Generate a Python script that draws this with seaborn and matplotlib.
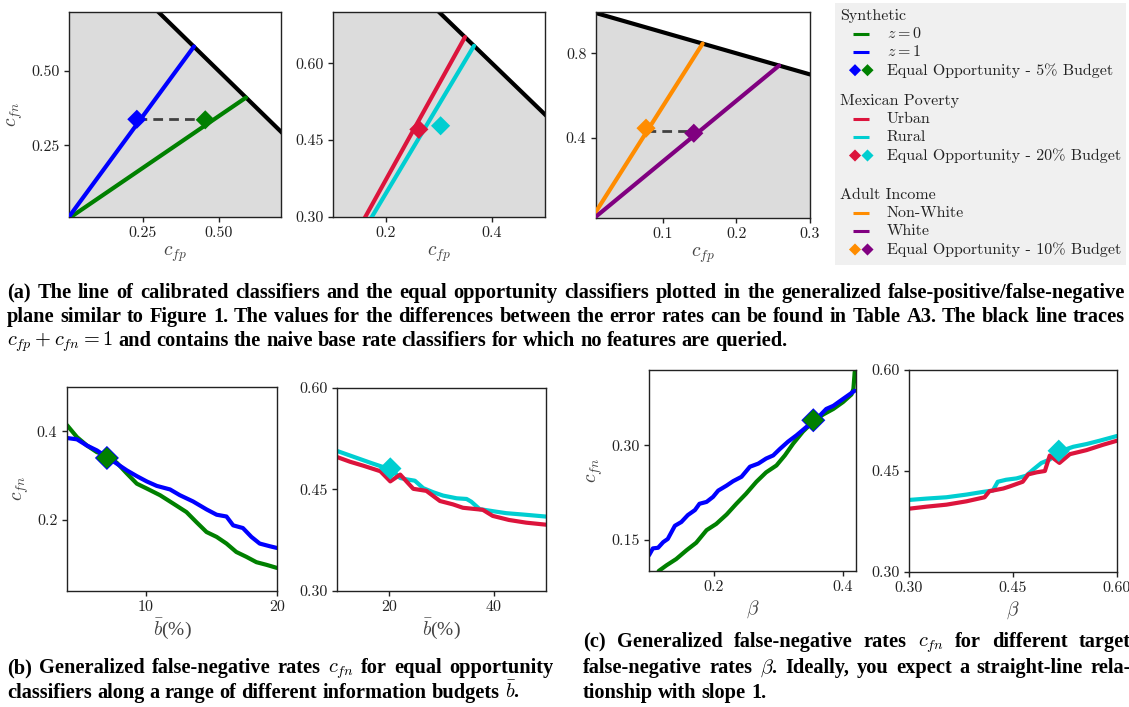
import numpy as np
import matplotlib
matplotlib.use("Agg")
import matplotlib.pyplot as plt
import seaborn as sns
from matplotlib.ticker import FixedLocator, FormatStrFormatter
from matplotlib.font_manager import FontProperties

# ---------------- data ----------------
# (a) calibrated-classifier lines: end points on c_fp + c_fn = 1 (lines start at the origin)
syn_labels = ["$z = 0$", "$z = 1$"]
syn_end_fp = [0.589, 0.418]
syn_end_fn = [0.411, 0.583]
syn_eo_fp = [0.455, 0.230]
syn_eo_fn = [0.336, 0.338]

mex_labels = ["Urban", "Rural"]
mex_end_fp = [0.349, 0.366]
mex_end_fn = [0.651, 0.634]
mex_eo_fp = [0.262, 0.303]
mex_eo_fn = [0.471, 0.478]

adult_labels = ["Non-White", "White"]
adult_end_fp = [0.154, 0.258]
adult_end_fn = [0.846, 0.742]
adult_eo_fp = [0.077, 0.142]
adult_eo_fn = [0.445, 0.421]

# (b) synthetic: c_fn vs budget
b_syn_z1_x = [4.0, 4.76, 5.52, 6.28, 7.04, 7.8, 8.56, 9.32, 10.08, 10.84, 11.85, 12.6, 13.6, 14.63,
              15.4, 16.15, 16.66, 17.4, 18.05, 18.68, 19.44, 20.0]
b_syn_z1_y = [0.385, 0.382, 0.368, 0.357, 0.342, 0.327, 0.312, 0.299, 0.287, 0.277, 0.269, 0.256,
              0.242, 0.224, 0.212, 0.208, 0.188, 0.182, 0.162, 0.147, 0.141, 0.137]
b_syn_z0_x = [4.0, 4.76, 5.52, 6.28, 7.04, 7.8, 8.56, 9.32, 10.08, 11.09, 12.1, 13.1, 13.87, 14.63,
              15.4, 16.15, 16.9, 17.67, 18.43, 19.2, 20.0]
b_syn_z0_y = [0.414, 0.387, 0.368, 0.353, 0.346, 0.329, 0.305, 0.282, 0.271, 0.256, 0.237, 0.218,
              0.195, 0.173, 0.162, 0.147, 0.128, 0.117, 0.105, 0.099, 0.092]
b_syn_eo = (7.04, 0.340)

# (b) Mexican poverty
b_mex_rural_x = [10, 12.2, 14.4, 16.6, 18.9, 20.2, 22.1, 23.3, 24.9, 26.5, 28.4, 30.3, 32.9, 34.8,
                 35.7, 37.3, 39.8, 42.4, 45.6, 50]
b_mex_rural_y = [0.507, 0.501, 0.495, 0.489, 0.483, 0.481, 0.467, 0.465, 0.463, 0.452, 0.446, 0.441,
                 0.437, 0.436, 0.432, 0.421, 0.418, 0.415, 0.413, 0.410]
b_mex_urban_x = [10, 12.5, 15.1, 18.3, 20.2, 22.1, 24.6, 27.1, 29.7, 32.2, 34.1, 37.9, 39.8, 42.9,
                 46.2, 50]
b_mex_urban_y = [0.498, 0.491, 0.485, 0.477, 0.462, 0.472, 0.451, 0.448, 0.433, 0.428, 0.423, 0.420,
                 0.411, 0.405, 0.401, 0.398]
b_mex_eo = (20.2, 0.481)

# (c) synthetic: c_fn vs beta
c_syn_z1_x = [0.1, 0.106, 0.114, 0.122, 0.129, 0.14, 0.15, 0.16, 0.171, 0.178, 0.189, 0.199, 0.207,
              0.22, 0.23, 0.243, 0.256, 0.269, 0.281, 0.292, 0.302, 0.315, 0.328, 0.343, 0.359,
              0.374, 0.385, 0.4, 0.418]
c_syn_z1_y = [0.125, 0.136, 0.137, 0.146, 0.151, 0.172, 0.178, 0.189, 0.197, 0.207, 0.21, 0.218,
              0.228, 0.236, 0.243, 0.25, 0.266, 0.271, 0.279, 0.284, 0.294, 0.306, 0.316, 0.329,
              0.342, 0.358, 0.363, 0.374, 0.387]
c_syn_z0_x = [0.115, 0.127, 0.142, 0.158, 0.173, 0.189, 0.204, 0.22, 0.235, 0.25, 0.266, 0.281,
              0.297, 0.31, 0.323, 0.338, 0.354, 0.369, 0.385, 0.4, 0.413, 0.416, 0.418]
c_syn_z0_y = [0.1, 0.109, 0.119, 0.133, 0.145, 0.165, 0.175, 0.19, 0.207, 0.223, 0.242, 0.257,
              0.268, 0.284, 0.303, 0.322, 0.338, 0.349, 0.358, 0.369, 0.381, 0.39, 0.417]
c_syn_eo = (0.354, 0.340)

# (c) Mexican poverty
c_mex_rural_x = [0.3, 0.325, 0.354, 0.383, 0.407, 0.421, 0.428, 0.44, 0.455, 0.469, 0.479, 0.491,
                 0.503, 0.517, 0.537, 0.556, 0.575, 0.6]
c_mex_rural_y = [0.407, 0.409, 0.411, 0.415, 0.419, 0.421, 0.434, 0.437, 0.439, 0.443, 0.452, 0.462,
                 0.467, 0.479, 0.486, 0.49, 0.495, 0.502]
c_mex_urban_x = [0.3, 0.325, 0.354, 0.383, 0.409, 0.416, 0.436, 0.445, 0.464, 0.472, 0.484, 0.496,
                 0.503, 0.517, 0.532, 0.556, 0.58, 0.6]
c_mex_urban_y = [0.394, 0.397, 0.4, 0.405, 0.411, 0.42, 0.424, 0.427, 0.434, 0.445, 0.448, 0.45,
                 0.473, 0.462, 0.475, 0.481, 0.489, 0.495]
c_mex_eo = (0.516, 0.480)

GREEN, BLUE = "#008000", "#0000ff"
RED, CYAN = "#dc143c", "#00ced1"
ORANGE, PURPLE = "#ff8c00", "#800080"

# ---------------- style ----------------
sns.set_theme(style="ticks")
plt.rcParams["font.family"] = ["cmr10", "DejaVu Serif"]
plt.rcParams["mathtext.fontset"] = "cm"
plt.rcParams["axes.formatter.use_mathtext"] = True
plt.rcParams["axes.unicode_minus"] = False
plt.rcParams["xtick.major.size"] = 3.5
plt.rcParams["ytick.major.size"] = 3.5
plt.rcParams["xtick.major.width"] = 1.0
plt.rcParams["ytick.major.width"] = 1.0
plt.rcParams["axes.linewidth"] = 1.0
plt.rcParams["axes.edgecolor"] = "#222222"

W, H = 1129, 707
fig = plt.figure(figsize=(W / 100, H / 100), dpi=100)
TICK_FS = 11.5
LAB_FS = 14
LAB_C = "#444444"


def add_ax(l, t, r, b):
    return fig.add_axes([l / W, 1 - b / H, (r - l) / W, (b - t) / H])


def fmt_axis(ax, xlim, ylim, xt, yt, xf, yf):
    ax.set_xlim(*xlim)
    ax.set_ylim(*ylim)
    ax.xaxis.set_major_locator(FixedLocator(xt))
    ax.yaxis.set_major_locator(FixedLocator(yt))
    ax.xaxis.set_major_formatter(FormatStrFormatter(xf))
    ax.yaxis.set_major_formatter(FormatStrFormatter(yf))
    ax.tick_params(labelsize=TICK_FS, colors="#222222")
    ax.set_xlabel("")
    ax.set_ylabel("")
    for s in ax.spines.values():
        s.set_visible(True)
        s.set_color("#222222")


def top_panel(ax, end_fp, end_fn, eo_fp, eo_fn, colors, dash_y=None):
    xs = np.array([0.0, 1.0])
    ax.fill_between(xs, -1.0, 1.0 - xs, color="#dcdcdc", lw=0, zorder=0)
    sns.lineplot(x=xs, y=1.0 - xs, ax=ax, color="black", lw=3, zorder=2, errorbar=None)
    for fp, fn, c in zip(end_fp, end_fn, colors):
        sns.lineplot(x=[0.0, fp], y=[0.0, fn], ax=ax, color=c, lw=3, zorder=3, errorbar=None)
    if dash_y is not None:
        ax.plot([min(eo_fp), max(eo_fp)], [dash_y, dash_y], ls=(0, (3.5, 2.2)), color="#404040",
                lw=2, zorder=4)
    for fp, fn, c in zip(eo_fp, eo_fn, colors):
        sns.scatterplot(x=[fp], y=[fn], ax=ax, marker="D", s=95, color=c, edgecolor="none",
                        zorder=5, legend=False)


# ---- (a) top row ----
a1 = add_ax(69, 12, 281, 217)
top_panel(a1, syn_end_fp, syn_end_fn, syn_eo_fp, syn_eo_fn, [GREEN, BLUE], dash_y=0.338)
fmt_axis(a1, (0.007, 0.704), (0.009, 0.699), [0.25, 0.50], [0.25, 0.50], "%.2f", "%.2f")
a1.set_xlabel("$c_{fp}$", fontsize=LAB_FS, color=LAB_C, labelpad=3)
a1.set_ylabel("$c_{fn}$", fontsize=LAB_FS, color=LAB_C)

a2 = add_ax(333, 12, 545, 217)
top_panel(a2, mex_end_fp, mex_end_fn, mex_eo_fp, mex_eo_fn, [RED, CYAN])
fmt_axis(a2, (0.1, 0.5), (0.3, 0.7), [0.2, 0.4], [0.30, 0.45, 0.60], "%.1f", "%.2f")
a2.set_xlabel("$c_{fp}$", fontsize=LAB_FS, color=LAB_C, labelpad=3)

a3 = add_ax(596, 12, 810, 218)
top_panel(a3, adult_end_fp, adult_end_fn, adult_eo_fp, adult_eo_fn, [ORANGE, PURPLE], dash_y=0.431)
fmt_axis(a3, (0.009, 0.3), (0.019, 0.996), [0.1, 0.2, 0.3], [0.4, 0.8], "%.1f", "%.1f")
a3.set_xlabel("$c_{fp}$", fontsize=LAB_FS, color=LAB_C, labelpad=3)

# ---- legend box ----
lg = add_ax(835, 3, 1126, 265)
lg.set_xlim(835, 1126)
lg.set_ylim(265, 3)
lg.set_facecolor("#f0f0f0")
lg.set_xticks([])
lg.set_yticks([])
for s in lg.spines.values():
    s.set_visible(False)
LEG_FS = 11.5
sections = [
    ("Synthetic", 15.7, syn_labels, [GREEN, BLUE], "Equal Opportunity - 5% Budget", [BLUE, GREEN]),
    ("Mexican Poverty", 101, mex_labels, [RED, CYAN], "Equal Opportunity - 20% Budget", [RED, CYAN]),
    ("Adult Income", 195, adult_labels, [ORANGE, PURPLE], "Equal Opportunity - 10% Budget",
     [ORANGE, PURPLE]),
]
for title, y0, labs, cols, eo_lab, eo_cols in sections:
    lg.text(840, y0, title, fontsize=LEG_FS, va="center", ha="left", color="#222222")
    for i, (lab, c) in enumerate(zip(labs, cols)):
        yy = y0 + 18 * (i + 1)
        lg.plot([853, 869], [yy, yy], color=c, lw=2.2, solid_capstyle="butt")
        lg.text(887, yy, lab, fontsize=LEG_FS, va="center", ha="left", color="#222222")
    yy = y0 + 18 * 3 + 0.5
    lg.scatter([855, 867.5], [yy, yy], marker="D", s=38, c=eo_cols, edgecolors="none")
    lg.text(887, yy, eo_lab, fontsize=LEG_FS, va="center", ha="left", color="#222222")

BLAB = r"$\bar{b}$(%)"
BLAB_FAM = ["Liberation Serif", "DejaVu Serif"]

# ---- (b) ----
b1 = add_ax(67, 387, 277, 591)
sns.lineplot(x=b_syn_z0_x, y=b_syn_z0_y, ax=b1, color=GREEN, lw=3, errorbar=None)
sns.lineplot(x=b_syn_z1_x, y=b_syn_z1_y, ax=b1, color=BLUE, lw=3, errorbar=None)
sns.scatterplot(x=[b_syn_eo[0]], y=[b_syn_eo[1]], ax=b1, marker="D", s=150, color=BLUE,
                edgecolor="none", zorder=5, legend=False)
sns.scatterplot(x=[b_syn_eo[0]], y=[b_syn_eo[1]], ax=b1, marker="D", s=120, color=GREEN,
                edgecolor="none", zorder=6, legend=False)
fmt_axis(b1, (4, 20), (0.04, 0.5), [10, 20], [0.2, 0.4], "%d", "%.1f")
b1.set_xlabel(BLAB, fontsize=LAB_FS, color=LAB_C, labelpad=2, family=BLAB_FAM)
b1.set_ylabel("$c_{fn}$", fontsize=LAB_FS, color=LAB_C)

b2 = add_ax(337, 388, 546, 591)
sns.lineplot(x=b_mex_rural_x, y=b_mex_rural_y, ax=b2, color=CYAN, lw=3, errorbar=None)
sns.lineplot(x=b_mex_urban_x, y=b_mex_urban_y, ax=b2, color=RED, lw=3, errorbar=None)
sns.scatterplot(x=[b_mex_eo[0]], y=[b_mex_eo[1]], ax=b2, marker="D", s=130, color=CYAN,
                edgecolor="none", zorder=6, legend=False)
fmt_axis(b2, (10, 50), (0.3, 0.6), [20, 40], [0.30, 0.45, 0.60], "%d", "%.2f")
b2.set_xlabel(BLAB, fontsize=LAB_FS, color=LAB_C, labelpad=2, family=BLAB_FAM)

# ---- (c) ----
c1 = add_ax(649, 370, 856, 571)
sns.lineplot(x=c_syn_z0_x, y=c_syn_z0_y, ax=c1, color=GREEN, lw=3, errorbar=None)
sns.lineplot(x=c_syn_z1_x, y=c_syn_z1_y, ax=c1, color=BLUE, lw=3, errorbar=None)
sns.scatterplot(x=[c_syn_eo[0]], y=[c_syn_eo[1]], ax=c1, marker="D", s=150, color=BLUE,
                edgecolor="none", zorder=5, legend=False)
sns.scatterplot(x=[c_syn_eo[0]], y=[c_syn_eo[1]], ax=c1, marker="D", s=120, color=GREEN,
                edgecolor="none", zorder=6, legend=False)
fmt_axis(c1, (0.1, 0.42), (0.1, 0.42), [0.2, 0.4], [0.15, 0.30], "%.1f", "%.2f")
c1.set_xlabel(r"$\beta$", fontsize=LAB_FS, color=LAB_C, labelpad=3)
c1.set_ylabel("$c_{fn}$", fontsize=LAB_FS, color=LAB_C)

c2 = add_ax(909, 370, 1117, 572)
sns.lineplot(x=c_mex_rural_x, y=c_mex_rural_y, ax=c2, color=CYAN, lw=3, errorbar=None)
sns.lineplot(x=c_mex_urban_x, y=c_mex_urban_y, ax=c2, color=RED, lw=3, errorbar=None)
sns.scatterplot(x=[c_mex_eo[0]], y=[c_mex_eo[1]], ax=c2, marker="D", s=130, color=CYAN,
                edgecolor="none", zorder=6, legend=False)
fmt_axis(c2, (0.3, 0.6), (0.3, 0.6), [0.30, 0.45, 0.60], [0.30, 0.45, 0.60], "%.2f", "%.2f")
c2.set_xlabel(r"$\beta$", fontsize=LAB_FS, color=LAB_C, labelpad=3)

# ---- captions ----
R = fig.canvas.get_renderer()


def text_w(s, fp):
    t = fig.text(0, 0, s, fontproperties=fp)
    w = t.get_window_extent(renderer=R).width
    t.remove()
    return w


def line_width(tokens, fp):
    sp = text_w("x x", fp) - text_w("xx", fp)
    return sum(text_w(t, fp) for t in tokens) + sp * (len(tokens) - 1)


def draw_line(text, x0, base_y, fp, x1=None):
    tokens = text.split(" ")
    widths = [text_w(t, fp) for t in tokens]
    if x1 is None:
        gap = text_w("x x", fp) - text_w("xx", fp)
    else:
        gap = (x1 - x0 - sum(widths)) / (len(tokens) - 1)
    x = x0
    for tok, w in zip(tokens, widths):
        fig.text(x / W, 1 - base_y / H, tok, fontproperties=fp, va="baseline", ha="left",
                 color="black")
        x += w + gap


capA = ["(a) The line of calibrated classifiers and the equal opportunity classifiers plotted in the generalized false-positive/false-negative",
        "plane similar to Figure 1. The values for the differences between the error rates can be found in Table A3. The black line traces",
        r"$c_{fp}+c_{fn}=1$ and contains the naive base rate classifiers for which no features are queried."]
capB = [r"(b) Generalized false-negative rates $c_{fn}$ for equal opportunity",
        r"classifiers along a range of different information budgets $\bar{b}$."]
capC = [r"(c) Generalized false-negative rates $c_{fn}$ for different target",
        r"false-negative rates $\beta$. Ideally, you expect a straight-line rela-",
        "tionship with slope 1."]

fp0 = FontProperties(family="Liberation Serif", weight="bold", size=12)
nat = line_width(capA[0].split(" "), fp0)
cap_size = 12 * 1118 / nat * 0.97
fp = FontProperties(family="Liberation Serif", weight="bold", size=cap_size)

draw_line(capA[0], 7, 298, fp, 1125)
draw_line(capA[1], 7, 322, fp, 1125)
draw_line(capA[2], 7, 346, fp)
draw_line(capB[0], 7, 673, fp, 553)
draw_line(capB[1], 7, 698, fp)
draw_line(capC[0], 583, 647, fp, 1131)
draw_line(capC[1], 583, 673, fp, 1131)
draw_line(capC[2], 583, 698, fp)

fig.savefig("out.png", dpi=100)
